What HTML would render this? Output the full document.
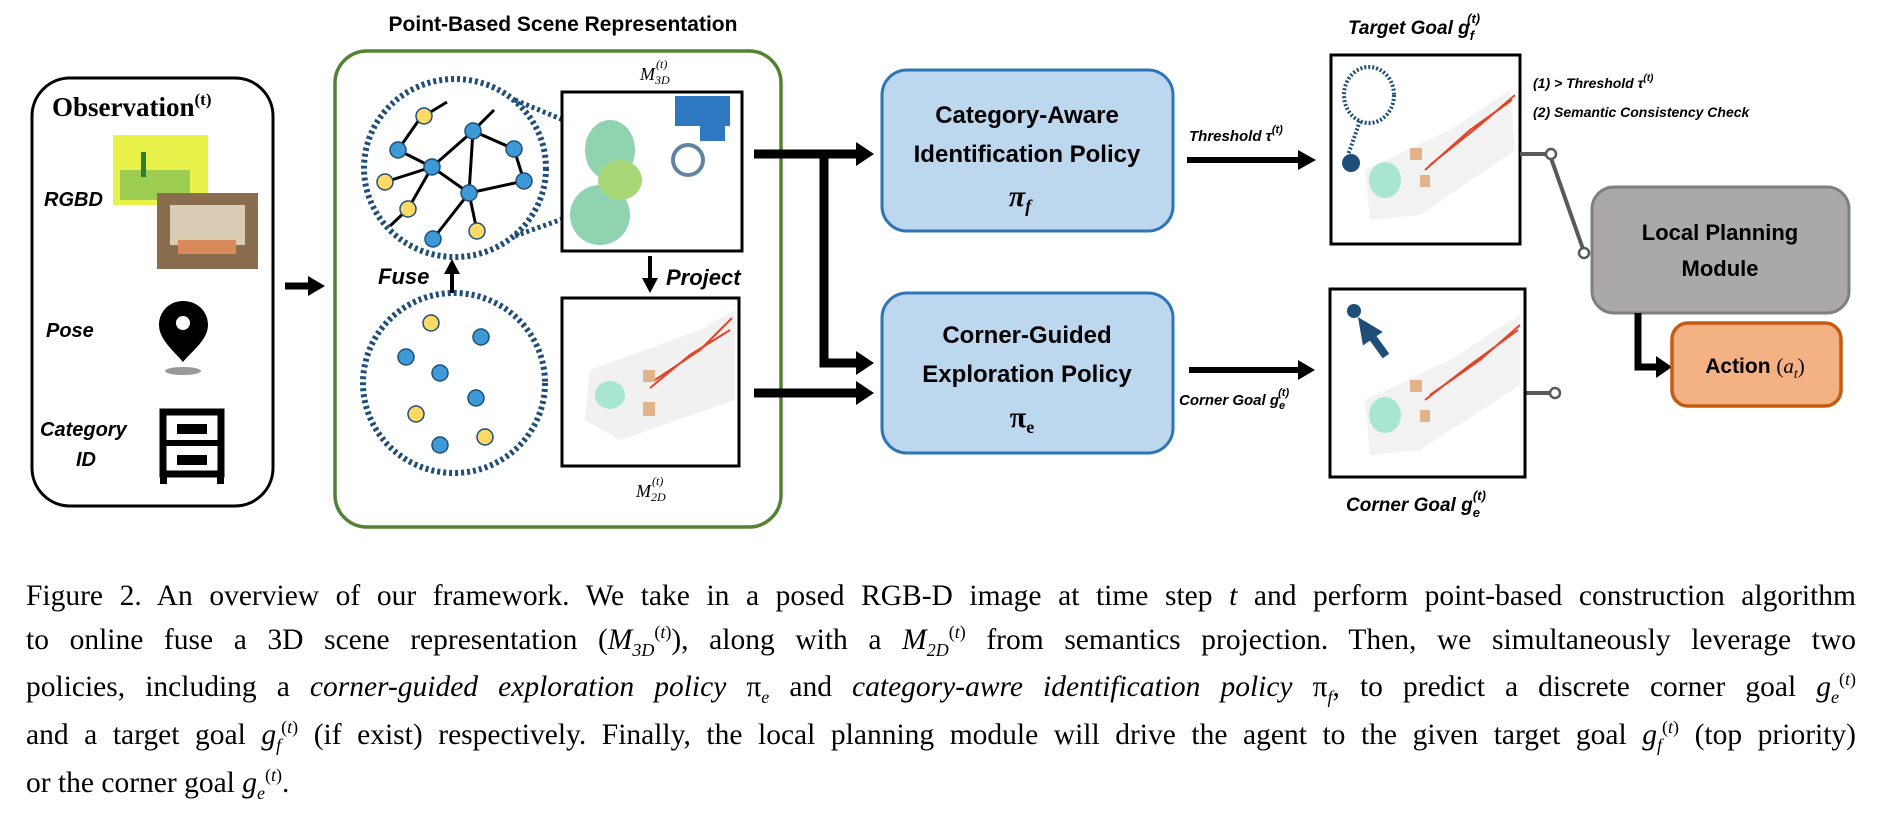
<!DOCTYPE html>
<html><head><meta charset="utf-8"><style>
body{margin:0;width:1879px;height:819px;background:#fff;overflow:hidden;position:relative;font-family:"Liberation Sans",sans-serif}
svg{position:absolute;left:0;top:0}
.cap{position:absolute;left:26px;width:1830px;font-family:"Liberation Serif",serif;font-size:29.5px;line-height:28px;white-space:nowrap;text-align:justify;text-align-last:justify}
.cap i{font-style:italic}
sup,sub{font-size:18px;line-height:0}
</style></head><body>
<svg width="1879" height="540" viewBox="0 0 1879 540">
<g font-family="Liberation Sans" font-weight="bold">
<rect x="32" y="78" width="241" height="428" rx="38" fill="#fff" stroke="#000" stroke-width="3"/>
<text x="52" y="116" font-family="Liberation Serif" font-size="27">Observation<tspan font-size="17" dy="-11">(t)</tspan></text>
<text x="44" y="206" font-size="20" font-style="italic">RGBD</text>
<rect x="113" y="135" width="95" height="70" fill="#e8f24a"/>
<rect x="120" y="170" width="70" height="30" fill="#9ccc50"/>
<rect x="141" y="152" width="5" height="25" fill="#2e7d32"/>
<rect x="157" y="193" width="101" height="76" fill="#8a6d4f"/>
<rect x="170" y="205" width="75" height="40" fill="#d8cdb4"/>
<rect x="178" y="240" width="58" height="14" fill="#d98a5a"/>
<text x="46" y="337" font-size="20" font-style="italic">Pose</text>
<path d="M183,301 C170,301 159,311 159,325 C159,340 175,352 183,362 C191,352 208,340 208,325 C208,311 197,301 183,301 Z" fill="#000"/>
<circle cx="183" cy="323" r="7" fill="#fff"/>
<ellipse cx="183" cy="371" rx="18" ry="4" fill="#999"/>
<text x="40" y="436" font-size="20" font-style="italic">Category</text>
<text x="76" y="466" font-size="20" font-style="italic">ID</text>
<rect x="163" y="412" width="58" height="62" fill="none" stroke="#000" stroke-width="7"/>
<line x1="163" y1="443" x2="221" y2="443" stroke="#000" stroke-width="6"/>
<rect x="177" y="424" width="30" height="10" fill="#000"/><rect x="177" y="455" width="30" height="10" fill="#000"/>
<rect x="160" y="474" width="7" height="10" fill="#000"/><rect x="217" y="474" width="7" height="10" fill="#000"/>
<line x1="285" y1="286" x2="312" y2="286" stroke="#000" stroke-width="7"/>
<path d="M308,276 L325,286 L308,296 z" fill="#000"/>
<text x="563" y="31" font-size="21" text-anchor="middle">Point-Based Scene Representation</text>
<rect x="335" y="51" width="446" height="476" rx="32" fill="#fff" stroke="#548235" stroke-width="3.5"/>
<ellipse cx="455" cy="168" rx="91" ry="89" fill="none" stroke="#1f4e79" stroke-width="6" stroke-dasharray="3,3"/>
<line x1="515" y1="100" x2="568" y2="122" stroke="#1f4e79" stroke-width="5" stroke-dasharray="3,3"/>
<line x1="515" y1="236" x2="685" y2="175" stroke="#1f4e79" stroke-width="5" stroke-dasharray="3,3"/>
<ellipse cx="454" cy="383" rx="91" ry="90" fill="none" stroke="#1f4e79" stroke-width="6" stroke-dasharray="3,3"/>
<g stroke="#000" stroke-width="3">
<line x1="424" y1="116" x2="447" y2="102"/><line x1="398" y1="150" x2="421" y2="117"/><line x1="398" y1="150" x2="432" y2="167"/>
<line x1="432" y1="167" x2="473" y2="131"/><line x1="473" y1="131" x2="494" y2="110"/><line x1="473" y1="131" x2="514" y2="149"/>
<line x1="473" y1="131" x2="469" y2="193"/><line x1="514" y1="149" x2="524" y2="181"/><line x1="469" y1="193" x2="524" y2="181"/>
<line x1="432" y1="167" x2="385" y2="182"/><line x1="432" y1="167" x2="469" y2="193"/><line x1="432" y1="167" x2="408" y2="209"/>
<line x1="469" y1="193" x2="433" y2="239"/><line x1="469" y1="193" x2="477" y2="231"/><line x1="408" y1="209" x2="390" y2="226"/>
</g>
<g stroke="#1f4e79" stroke-width="1.5">
<circle cx="424" cy="116" r="8" fill="#ffd966"/><circle cx="473" cy="131" r="8" fill="#3d9ad6"/><circle cx="398" cy="150" r="8" fill="#3d9ad6"/>
<circle cx="514" cy="149" r="8" fill="#3d9ad6"/><circle cx="432" cy="167" r="8" fill="#3d9ad6"/><circle cx="524" cy="181" r="8" fill="#3d9ad6"/>
<circle cx="385" cy="182" r="8" fill="#ffd966"/><circle cx="469" cy="193" r="8" fill="#3d9ad6"/><circle cx="408" cy="209" r="8" fill="#ffd966"/>
<circle cx="433" cy="239" r="8" fill="#3d9ad6"/><circle cx="477" cy="231" r="8" fill="#ffd966"/>
<circle cx="431" cy="323" r="8" fill="#ffd966"/><circle cx="481" cy="337" r="8" fill="#3d9ad6"/><circle cx="406" cy="357" r="8" fill="#3d9ad6"/>
<circle cx="440" cy="373" r="8" fill="#3d9ad6"/><circle cx="476" cy="398" r="8" fill="#3d9ad6"/><circle cx="416" cy="414" r="8" fill="#ffd966"/>
<circle cx="485" cy="437" r="8" fill="#ffd966"/><circle cx="440" cy="445" r="8" fill="#3d9ad6"/>
</g>
<text x="378" y="284" font-size="22" font-style="italic">Fuse</text>
<line x1="452" y1="293" x2="452" y2="272" stroke="#000" stroke-width="4"/><path d="M444,274 L452,259 L460,274 z" fill="#000"/>
<text x="640" y="80" font-family="Liberation Serif" font-size="18" font-style="italic" font-weight="normal">M</text>
<text x="656" y="68" font-family="Liberation Serif" font-size="12" font-style="italic" font-weight="normal">(t)</text>
<text x="655" y="84" font-family="Liberation Serif" font-size="12" font-style="italic" font-weight="normal">3D</text>
<rect x="562" y="92" width="180" height="159" fill="#fff" stroke="#000" stroke-width="3"/>
<g fill="#8fd3b0"><ellipse cx="610" cy="150" rx="25" ry="30"/><ellipse cx="600" cy="215" rx="30" ry="30"/></g>
<g fill="#a7d676"><ellipse cx="620" cy="180" rx="22" ry="20"/></g>
<g fill="#2e78c2"><rect x="675" y="96" width="55" height="30"/><rect x="700" y="126" width="25" height="15"/></g>
<circle cx="688" cy="160" r="15" fill="none" stroke="#1f4e79" stroke-width="4" opacity=".7"/>
<text x="666" y="285" font-size="22" font-style="italic">Project</text>
<line x1="650" y1="256" x2="650" y2="280" stroke="#000" stroke-width="4"/><path d="M642,278 L650,293 L658,278 z" fill="#000"/>
<rect x="562" y="298" width="177" height="168" fill="#fff" stroke="#000" stroke-width="3"/>
<path d="M590,370 L700,330 L735,310 L735,400 L620,440 L585,420 z" fill="#f1f1f1"/>
<path d="M650,388 L690,355 L730,330 M655,380 L700,350 L732,318" stroke="#e0452a" stroke-width="2" fill="none"/>
<ellipse cx="610" cy="395" rx="15" ry="14" fill="#a8e6cf"/><rect x="643" y="370" width="12" height="12" fill="#e2b28a"/><rect x="643" y="402" width="12" height="14" fill="#e2b28a"/>
<text x="636" y="497" font-family="Liberation Serif" font-size="18" font-style="italic" font-weight="normal">M</text>
<text x="652" y="485" font-family="Liberation Serif" font-size="12" font-style="italic" font-weight="normal">(t)</text>
<text x="651" y="501" font-family="Liberation Serif" font-size="12" font-style="italic" font-weight="normal">2D</text>
<g stroke="#000" stroke-width="9" fill="none">
<line x1="754" y1="154" x2="862" y2="154"/><polyline points="824,154 824,363 862,363"/><line x1="754" y1="393" x2="862" y2="393"/>
</g>
<path d="M856,142 L874,154 L856,166 z M856,351 L874,363 L856,375 z M856,381 L874,393 L856,405 z" fill="#000"/>
<rect x="882" y="70" width="291" height="161" rx="25" fill="#bdd7ee" stroke="#2e75b6" stroke-width="3"/>
<text x="1027" y="123" font-size="24" text-anchor="middle">Category-Aware</text>
<text x="1027" y="162" font-size="24" text-anchor="middle">Identification Policy</text>
<text x="1020" y="206" font-family="Liberation Serif" font-size="30" font-style="italic" text-anchor="middle">π<tspan font-size="18" dy="6">f</tspan></text>
<rect x="882" y="293" width="291" height="160" rx="25" fill="#bdd7ee" stroke="#2e75b6" stroke-width="3"/>
<text x="1027" y="343" font-size="24" text-anchor="middle">Corner-Guided</text>
<text x="1027" y="382" font-size="24" text-anchor="middle">Exploration Policy</text>
<text x="1022" y="427" font-family="Liberation Serif" font-size="30" text-anchor="middle">π<tspan font-size="18" dy="6">e</tspan></text>
<text x="1189" y="141" font-size="15" font-style="italic">Threshold τ<tspan font-size="11" dy="-8">(t)</tspan></text>
<line x1="1187" y1="160" x2="1302" y2="160" stroke="#000" stroke-width="6"/><path d="M1298,150 L1316,160 L1298,170 z" fill="#000"/>
<line x1="1189" y1="370" x2="1302" y2="370" stroke="#000" stroke-width="6"/><path d="M1298,360 L1315,370 L1298,380 z" fill="#000"/>
<text x="1179" y="405" font-size="15" font-style="italic">Corner Goal g<tspan font-size="11" dy="4">e</tspan><tspan font-size="11" dy="-13" dx="-7">(t)</tspan></text>
<text x="1348" y="34" font-size="19" font-style="italic">Target Goal g<tspan font-size="13" dy="6">f</tspan><tspan font-size="13" dy="-17" dx="-7">(t)</tspan></text>
<rect x="1331" y="55" width="189" height="189" fill="#fff" stroke="#000" stroke-width="3"/>
<path d="M1365,170 L1450,130 L1510,90 L1515,150 L1420,215 L1370,220 z" fill="#f2f2f2"/>
<path d="M1425,170 L1470,130 L1512,100 M1430,165 L1480,125 L1515,95" stroke="#e0452a" stroke-width="2" fill="none"/>
<ellipse cx="1385" cy="180" rx="16" ry="18" fill="#a8e6cf"/><rect x="1410" y="148" width="12" height="12" fill="#e2b28a"/><rect x="1420" y="175" width="10" height="12" fill="#e2b28a"/>
<ellipse cx="1369" cy="95" rx="25" ry="28" fill="none" stroke="#1f4e79" stroke-width="4" stroke-dasharray="2,2"/>
<line x1="1360" y1="121" x2="1348" y2="155" stroke="#1f4e79" stroke-width="4" stroke-dasharray="2,2"/>
<circle cx="1351" cy="163" r="9" fill="#1f4e79"/>
<text x="1533" y="88" font-size="14" font-style="italic">(1) &gt; Threshold τ<tspan font-size="10" dy="-7">(t)</tspan></text>
<text x="1533" y="117" font-size="14" font-style="italic">(2) Semantic Consistency Check</text>
<g stroke="#595959" stroke-width="4" fill="none"><line x1="1520" y1="154" x2="1546" y2="154"/><line x1="1551" y1="158" x2="1583" y2="249"/><line x1="1525" y1="393" x2="1550" y2="393"/></g>
<g fill="#fff" stroke="#595959" stroke-width="2.5"><circle cx="1551" cy="154" r="5"/><circle cx="1584" cy="253" r="5"/><circle cx="1555" cy="393" r="5"/></g>
<rect x="1330" y="289" width="195" height="188" fill="#fff" stroke="#000" stroke-width="3"/>
<path d="M1365,400 L1450,360 L1520,315 L1520,385 L1420,450 L1370,455 z" fill="#f2f2f2"/>
<path d="M1425,400 L1470,365 L1518,330 M1430,395 L1480,360 L1520,325" stroke="#e0452a" stroke-width="2" fill="none"/>
<ellipse cx="1385" cy="415" rx="16" ry="18" fill="#a8e6cf"/><rect x="1410" y="380" width="12" height="12" fill="#e2b28a"/><rect x="1420" y="410" width="10" height="12" fill="#e2b28a"/>
<circle cx="1354" cy="311" r="7" fill="#1f4e79"/>
<line x1="1386" y1="356" x2="1370" y2="334" stroke="#1f4e79" stroke-width="8"/><path d="M1360,320 L1380,332 L1364,343 z" fill="#1f4e79" stroke="#1f4e79" stroke-width="3"/>
<text x="1346" y="511" font-size="19" font-style="italic">Corner Goal g<tspan font-size="13" dy="6">e</tspan><tspan font-size="13" dy="-17" dx="-7">(t)</tspan></text>
<rect x="1592" y="187" width="257" height="126" rx="22" fill="#aaa8a8" stroke="#7f7f7f" stroke-width="3"/>
<text x="1720" y="240" font-size="22" text-anchor="middle">Local Planning</text>
<text x="1720" y="276" font-size="22" text-anchor="middle">Module</text>
<polyline points="1638,313 1638,367 1660,367" stroke="#000" stroke-width="7" fill="none"/>
<path d="M1656,356 L1672,367 L1656,378 z" fill="#000"/>
<rect x="1672" y="323" width="169" height="83" rx="16" fill="#f4b183" stroke="#c55a11" stroke-width="3.5"/>
<text x="1755" y="373" font-size="21" text-anchor="middle">Action <tspan font-family="Liberation Serif" font-weight="normal">(<tspan font-style="italic">a</tspan><tspan font-size="14" dy="5" font-style="italic">t</tspan><tspan dy="-5">)</tspan></tspan></text>
</g>
</svg>
<div class="cap" style="top:582px">Figure 2. An overview of our framework. We take in a posed RGB-D image at time step <i>t</i> and perform point-based construction algorithm</div>
<div class="cap" style="top:626px">to online fuse a 3D scene representation (<i>M</i><sub><i>3D</i></sub><sup>(<i>t</i>)</sup>), along with a <i>M</i><sub><i>2D</i></sub><sup>(<i>t</i>)</sup> from semantics projection. Then, we simultaneously leverage two</div>
<div class="cap" style="top:673px">policies, including a <i>corner-guided exploration policy</i> π<sub><i>e</i></sub> and <i>category-awre identification policy</i> π<sub><i>f</i></sub>, to predict a discrete corner goal <i>g</i><sub><i>e</i></sub><sup>(<i>t</i>)</sup></div>
<div class="cap" style="top:721px">and a target goal <i>g</i><sub><i>f</i></sub><sup>(<i>t</i>)</sup> (if exist) respectively. Finally, the local planning module will drive the agent to the given target goal <i>g</i><sub><i>f</i></sub><sup>(<i>t</i>)</sup> (top priority)</div>
<div class="cap" style="top:769px;text-align-last:left">or the corner goal <i>g</i><sub><i>e</i></sub><sup>(<i>t</i>)</sup>.</div>
</body></html>
